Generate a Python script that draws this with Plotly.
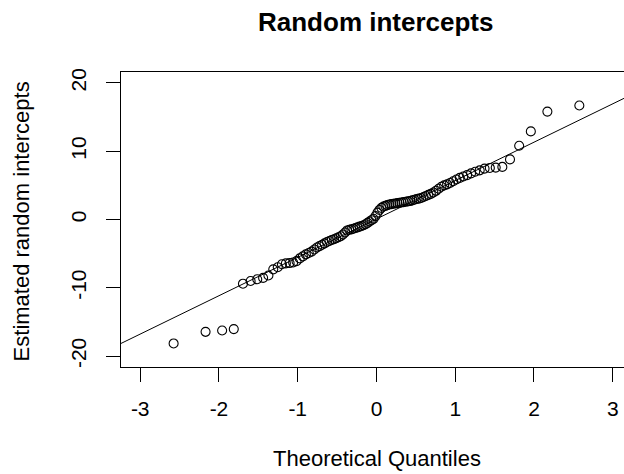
import plotly.graph_objects as go

# Theoretical normal quantiles for n = 100 (ppoints), left half and right half
theoretical_q = [
    -2.5758, -2.1701, -1.9600, -1.8119, -1.6954, -1.5982, -1.5141, -1.4395, -1.3722, -1.3106,
    -1.2536, -1.2004, -1.1503, -1.1031, -1.0581, -1.0152, -0.9741, -0.9346, -0.8965, -0.8596,
    -0.8239, -0.7892, -0.7554, -0.7225, -0.6903, -0.6588, -0.6280, -0.5978, -0.5681, -0.5388,
    -0.5101, -0.4817, -0.4538, -0.4261, -0.3989, -0.3719, -0.3451, -0.3186, -0.2924, -0.2663,
    -0.2404, -0.2147, -0.1891, -0.1637, -0.1383, -0.1130, -0.0878, -0.0627, -0.0376, -0.0125,
    0.0125, 0.0376, 0.0627, 0.0878, 0.1130, 0.1383, 0.1637, 0.1891, 0.2147, 0.2404,
    0.2663, 0.2924, 0.3186, 0.3451, 0.3719, 0.3989, 0.4261, 0.4538, 0.4817, 0.5101,
    0.5388, 0.5681, 0.5978, 0.6280, 0.6588, 0.6903, 0.7225, 0.7554, 0.7892, 0.8239,
    0.8596, 0.8965, 0.9346, 0.9741, 1.0152, 1.0581, 1.1031, 1.1503, 1.2004, 1.2536,
    1.3106, 1.3722, 1.4395, 1.5141, 1.5982, 1.6954, 1.8119, 1.9600, 2.1701, 2.5758,
]

# Estimated random intercepts (sorted sample values)
random_intercepts = [
    -18.15, -16.45, -16.25, -16.05, -9.40, -9.00, -8.75, -8.55, -8.20, -7.30,
    -7.00, -6.55, -6.42, -6.38, -6.30, -6.10, -5.70, -5.40, -5.10, -4.90,
    -4.70, -4.40, -4.10, -3.90, -3.70, -3.50, -3.30, -3.15, -3.00, -2.90,
    -2.75, -2.60, -2.45, -2.20, -1.90, -1.60, -1.50, -1.45, -1.35, -1.25,
    -1.15, -1.05, -0.95, -0.85, -0.70, -0.50, -0.30, -0.10, 0.10, 0.50,
    1.00, 1.40, 1.70, 1.90, 2.00, 2.10, 2.20, 2.25, 2.30, 2.35,
    2.40, 2.45, 2.50, 2.55, 2.60, 2.65, 2.70, 2.80, 2.90, 3.00,
    3.05, 3.15, 3.30, 3.45, 3.60, 3.75, 3.95, 4.20, 4.50, 4.80,
    5.00, 5.15, 5.35, 5.60, 5.85, 6.10, 6.30, 6.50, 6.75, 7.00,
    7.20, 7.45, 7.55, 7.60, 7.70, 8.80, 10.80, 12.90, 15.80, 16.70,
]

# Reference (qq) line
line_intercept = 0.08
line_slope = 5.62

x_ticks = [-3, -2, -1, 0, 1, 2, 3]
y_ticks = [-20, -10, 0, 10, 20]

x_range = [-3.244, 3.143]
y_range = [-21.6, 21.6]

FONT = "Liberation Sans, Arial, sans-serif"

fig = go.Figure()
fig.add_trace(go.Scatter(
    x=x_range,
    y=[line_intercept + line_slope * v for v in x_range],
    mode="lines",
    line=dict(color="black", width=1),
    hoverinfo="skip",
    showlegend=False,
))
fig.add_trace(go.Scatter(
    x=theoretical_q,
    y=random_intercepts,
    mode="markers",
    marker=dict(symbol="circle-open", size=9, color="black", line=dict(width=1.1, color="black")),
    showlegend=False,
))

fig.update_layout(
    width=624,
    height=474,
    margin=dict(l=121, r=0, t=72, b=107),
    paper_bgcolor="white",
    plot_bgcolor="white",
    font=dict(family=FONT, color="black"),
    xaxis=dict(
        range=x_range,
        tickvals=x_ticks,
        ticktext=[str(t) for t in x_ticks],
        ticks="outside",
        ticklen=14,
        tickwidth=1,
        tickcolor="black",
        ticklabelstandoff=9,
        showline=True,
        mirror=True,
        linecolor="black",
        linewidth=1,
        showgrid=False,
        zeroline=False,
        tickfont=dict(size=21, family=FONT, color="black"),
    ),
    yaxis=dict(
        range=y_range,
        tickvals=y_ticks,
        ticktext=[str(t) for t in y_ticks],
        ticks="outside",
        ticklen=14,
        tickwidth=1,
        tickcolor="black",
        ticklabelstandoff=12,
        showline=True,
        mirror=False,
        linecolor="black",
        linewidth=1,
        showgrid=False,
        zeroline=False,
        tickangle=-90,
        tickfont=dict(size=21, family=FONT, color="black"),
    ),
    annotations=[
        dict(text="<b>Random intercepts</b>", xref="paper", yref="paper",
             x=0.506, y=1.169, xanchor="center", yanchor="middle", showarrow=False,
             font=dict(size=26, family=FONT, color="black")),
        dict(text="Theoretical Quantiles", xref="paper", yref="paper",
             x=0.509, y=-0.31, xanchor="center", yanchor="middle", showarrow=False,
             font=dict(size=22, family=FONT, color="black")),
        dict(text="Estimated random intercepts", xref="paper", yref="paper",
             x=-0.196, y=0.495, xanchor="center", yanchor="middle", showarrow=False,
             textangle=-90,
             font=dict(size=22, family=FONT, color="black")),
    ],
)

fig.write_html("out.html")
